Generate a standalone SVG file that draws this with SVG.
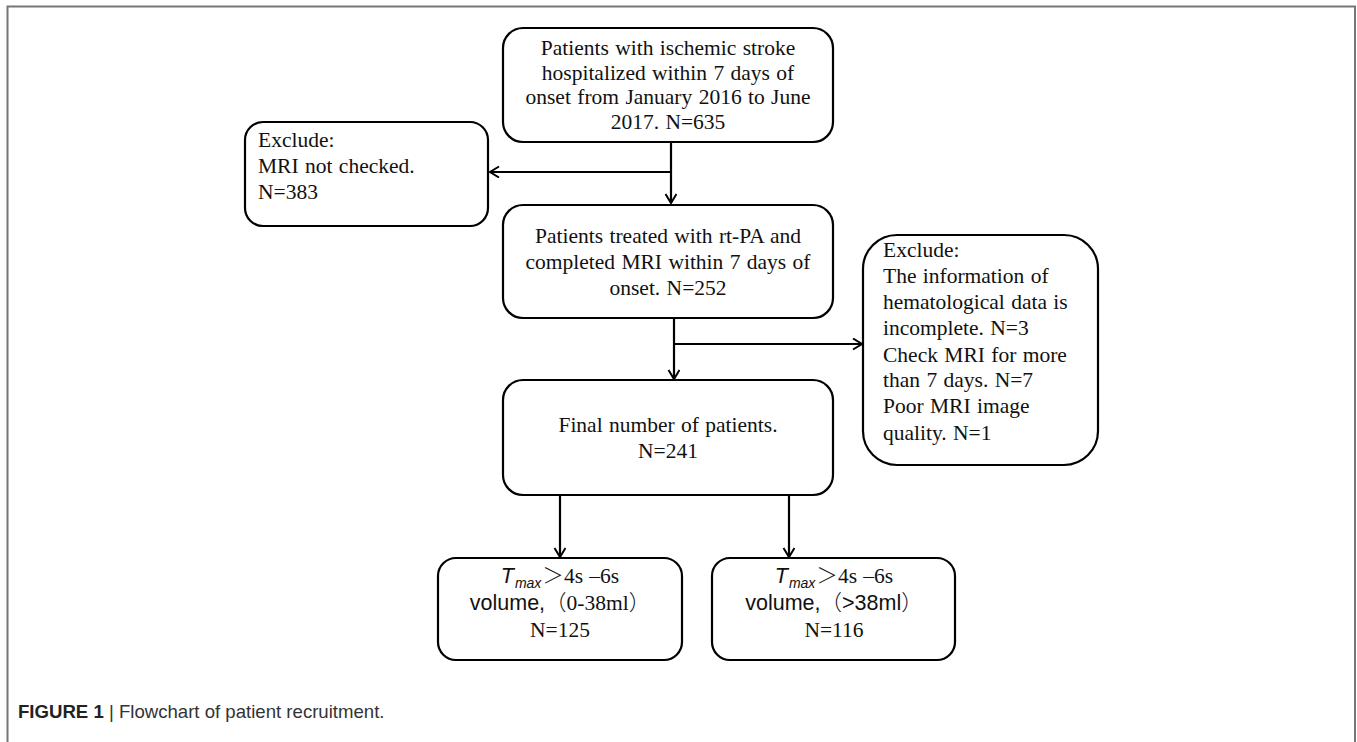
<svg xmlns="http://www.w3.org/2000/svg" width="1357" height="742" viewBox="0 0 1357 742">
<defs>
<style>
.box{fill:#fff;stroke:#000;stroke-width:2.2}
.t{font-family:"Liberation Serif","Times New Roman",serif;font-size:21.5px;fill:#111;word-spacing:1px}
.s{font-family:"Liberation Sans",Arial,sans-serif}
.cjk{font-family:"Noto Sans CJK SC","Liberation Sans",sans-serif}
.c{stroke:#000;stroke-width:2.2;fill:none;marker-end:url(#ah)}
.cap{font-family:"Liberation Sans",Arial,sans-serif;font-size:18.6px;fill:#333}
</style>
<marker id="ah" markerUnits="userSpaceOnUse" markerWidth="14" markerHeight="14" refX="10" refY="6" orient="auto">
<path d="M1,0.5 L10,6 L1,11.5" fill="none" stroke="#000" stroke-width="2"/>
</marker>
</defs>
<rect width="1357" height="742" fill="#fff"/>
<path d="M7.5,742 V6.5 H1355 V742" fill="none" stroke="#777" stroke-width="2"/>

<g id="connectors">
<path class="c" d="M671,142 V203"/>
<path class="c" d="M671,172 H490"/>
<path class="c" d="M674,318 V379"/>
<path class="c" d="M674,344 H862"/>
<path class="c" d="M560,495 V557"/>
<path class="c" d="M789,495 V557"/>
</g>

<g id="n1">
<rect class="box" x="503" y="28" width="330" height="114" rx="20"/>
<text class="t" text-anchor="middle"><tspan x="668" y="55">Patients with ischemic stroke</tspan><tspan x="668" y="80">hospitalized within  7 days of</tspan><tspan x="668" y="104">onset from January 2016 to June</tspan><tspan x="668" y="129">2017. N=635</tspan></text>
</g>

<g id="ex1">
<rect class="box" x="245" y="122" width="243" height="104" rx="18"/>
<text class="t"><tspan x="258" y="147">Exclude:</tspan><tspan x="258" y="173">MRI not checked.</tspan><tspan x="258" y="199">N=383</tspan></text>
</g>

<g id="n2">
<rect class="box" x="503" y="205" width="330" height="113" rx="20"/>
<text class="t" text-anchor="middle"><tspan x="668" y="243">Patients treated with rt-PA and</tspan><tspan x="668" y="269">completed MRI within  7 days of</tspan><tspan x="668" y="295">onset. N=252</tspan></text>
</g>

<g id="ex2">
<rect class="box" x="863" y="235" width="235" height="230" rx="34"/>
<text class="t"><tspan x="883" y="257">Exclude:</tspan><tspan x="883" y="283">The information  of</tspan><tspan x="883" y="309">hematological  data is</tspan><tspan x="883" y="335">incomplete.  N=3</tspan><tspan x="883" y="362">Check MRI for more</tspan><tspan x="883" y="387">than  7 days. N=7</tspan><tspan x="883" y="413">Poor MRI image</tspan><tspan x="883" y="440">quality.  N=1</tspan></text>
</g>

<g id="n3">
<rect class="box" x="503" y="380" width="330" height="115" rx="20"/>
<text class="t" text-anchor="middle"><tspan x="668" y="432">Final  number  of patients.</tspan><tspan x="668" y="458">N=241</tspan></text>
</g>

<g id="n4">
<rect class="box" x="438" y="558" width="244" height="102" rx="18"/>
<text class="t" text-anchor="middle" x="560" y="583"><tspan class="s" font-style="italic">T</tspan><tspan class="s" font-style="italic" font-size="14" dx="1" dy="5">max</tspan><tspan class="cjk" dx="1" dy="-5" font-weight="300">＞</tspan>4s –6s</text>
<text class="t" text-anchor="middle" x="560" y="610"><tspan class="s">volume,</tspan><tspan class="cjk" font-weight="300">（</tspan>0-38ml<tspan class="cjk" font-weight="300">）</tspan></text>
<text class="t" text-anchor="middle" x="560" y="637">N=125</text>
</g>

<g id="n5">
<rect class="box" x="712" y="558" width="243" height="102" rx="18"/>
<text class="t" text-anchor="middle" x="834" y="583"><tspan class="s" font-style="italic">T</tspan><tspan class="s" font-style="italic" font-size="14" dx="1" dy="5">max</tspan><tspan class="cjk" dx="1" dy="-5" font-weight="300">＞</tspan>4s –6s</text>
<text class="t" text-anchor="middle" x="834" y="610"><tspan class="s">volume,</tspan><tspan class="cjk" font-weight="300">（</tspan><tspan class="s">&gt;38ml</tspan><tspan class="cjk" font-weight="300">）</tspan></text>
<text class="t" text-anchor="middle" x="834" y="637">N=116</text>
</g>

<text class="cap" x="18" y="718"><tspan font-weight="bold" fill="#222">FIGURE 1</tspan> | Flowchart of patient recruitment.</text>
</svg>
